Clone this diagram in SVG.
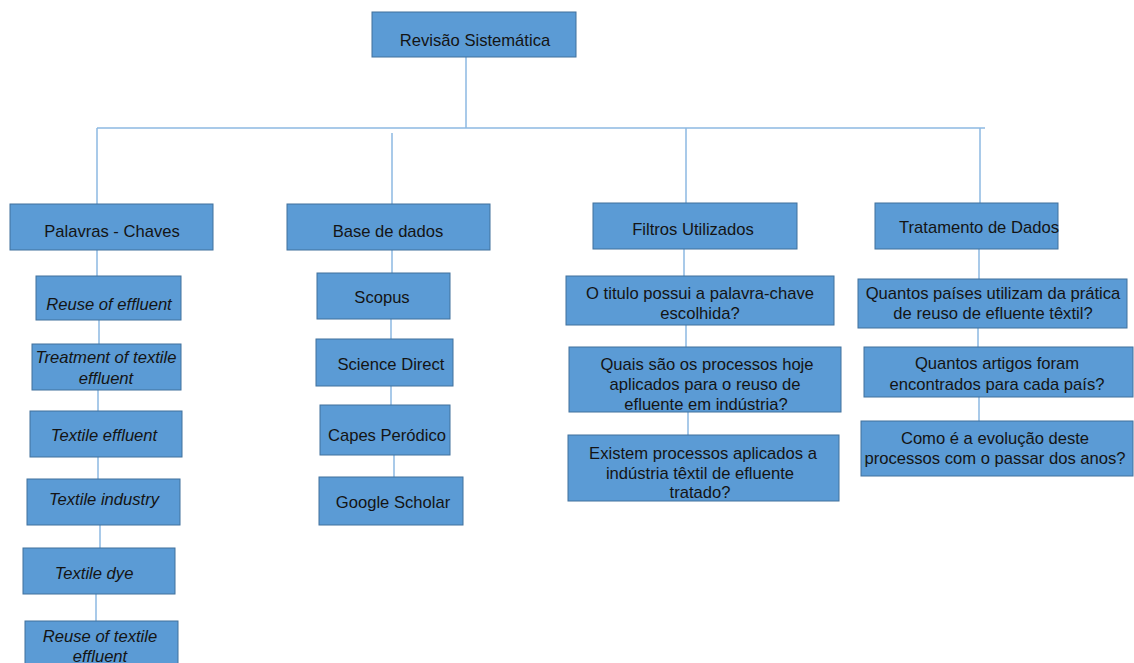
<svg xmlns="http://www.w3.org/2000/svg" width="1134" height="663" viewBox="0 0 1134 663">
<style>
.b{fill:#5B9BD5;stroke:#41719C;stroke-width:1}
.t{font-family:"Liberation Sans",Arial,sans-serif;font-size:16.6px;fill:#141414;text-anchor:middle}
.i{font-style:italic}
.c line{stroke:#8DB8E2;stroke-width:1.5}
</style>
<rect width="1134" height="663" fill="#fff"/>
<g class="c" id="connectors">
<line x1="466" y1="57" x2="466" y2="128"/>
<line x1="97" y1="128" x2="985" y2="128"/>
<line x1="97" y1="128" x2="97" y2="204"/>
<line x1="392" y1="133" x2="392" y2="204"/>
<line x1="686" y1="128" x2="686" y2="203"/>
<line x1="980" y1="128" x2="980" y2="203"/>
<line x1="97" y1="250" x2="97" y2="276"/>
<line x1="99" y1="320" x2="99" y2="344"/>
<line x1="98" y1="390" x2="98" y2="411"/>
<line x1="98" y1="457" x2="98" y2="479"/>
<line x1="100" y1="525" x2="100" y2="548"/>
<line x1="96" y1="594" x2="96" y2="621"/>
<line x1="392" y1="250" x2="392" y2="273"/>
<line x1="391" y1="319" x2="391" y2="339"/>
<line x1="391" y1="386" x2="391" y2="405"/>
<line x1="394" y1="455" x2="394" y2="477"/>
<line x1="684" y1="249" x2="684" y2="276"/>
<line x1="686" y1="325" x2="686" y2="347"/>
<line x1="688" y1="412" x2="688" y2="435"/>
<line x1="979" y1="249" x2="979" y2="279"/>
<line x1="978" y1="328" x2="978" y2="347"/>
<line x1="979" y1="397" x2="979" y2="421"/>
</g>
<g id="root"><rect class="b" x="372" y="12" width="204" height="45"/><text class="t" x="475" y="46">Revisão Sistemática</text></g>
<g id="palavras"><rect class="b" x="10" y="204" width="203" height="46"/><text class="t" x="112" y="237">Palavras - Chaves</text></g>
<g id="base"><rect class="b" x="287" y="204" width="203" height="46"/><text class="t" x="388" y="237">Base de dados</text></g>
<g id="filtros"><rect class="b" x="593" y="203" width="204" height="46"/><text class="t" x="693" y="235">Filtros Utilizados</text></g>
<g id="tratamento"><rect class="b" x="875" y="203" width="183" height="46"/><text class="t" x="979" y="233">Tratamento de Dados</text></g>

<g id="kw1"><rect class="b" x="36" y="276" width="145" height="44"/><text class="t i" x="109" y="310">Reuse of effluent</text></g>
<g id="kw2"><rect class="b" x="32" y="344" width="149" height="46"/><text class="t i" x="106" y="363">Treatment of textile</text><text class="t i" x="106" y="384">effluent</text></g>
<g id="kw3"><rect class="b" x="30" y="411" width="152" height="46"/><text class="t i" x="104" y="441">Textile effluent</text></g>
<g id="kw4"><rect class="b" x="27" y="479" width="153" height="46"/><text class="t i" x="104" y="505">Textile industry</text></g>
<g id="kw5"><rect class="b" x="23" y="548" width="152" height="46"/><text class="t i" x="94" y="579">Textile dye</text></g>
<g id="kw6"><rect class="b" x="25" y="621" width="153" height="50"/><text class="t i" x="100" y="642">Reuse of textile</text><text class="t i" x="100" y="662">effluent</text></g>

<g id="db1"><rect class="b" x="317" y="273" width="133" height="46"/><text class="t" x="382" y="303">Scopus</text></g>
<g id="db2"><rect class="b" x="316" y="339" width="137" height="47"/><text class="t" x="391" y="370">Science Direct</text></g>
<g id="db3"><rect class="b" x="320" y="405" width="130" height="50"/><text class="t" x="387" y="441">Capes Peródico</text></g>
<g id="db4"><rect class="b" x="319" y="477" width="144" height="48"/><text class="t" x="393" y="508">Google Scholar</text></g>

<g id="f1"><rect class="b" x="566" y="276" width="268" height="49"/><text class="t" x="700" y="299">O titulo  possui a palavra-chave</text><text class="t" x="700" y="319">escolhida?</text></g>
<g id="f2"><rect class="b" x="569" y="347" width="272" height="65"/><text class="t" x="707" y="370">Quais são os processos hoje</text><text class="t" x="705" y="390">aplicados para o reuso de</text><text class="t" x="706" y="410">efluente em indústria?</text></g>
<g id="f3"><rect class="b" x="568" y="435" width="271" height="66"/><text class="t" x="703" y="459">Existem processos aplicados a</text><text class="t" x="700" y="479">indústria têxtil de efluente</text><text class="t" x="700" y="498">tratado?</text></g>

<g id="t1"><rect class="b" x="858" y="279" width="269" height="49"/><text class="t" x="993" y="299">Quantos países utilizam da prática</text><text class="t" x="993" y="319">de reuso de efluente têxtil?</text></g>
<g id="t2"><rect class="b" x="864" y="347" width="269" height="50"/><text class="t" x="997" y="369">Quantos artigos foram</text><text class="t" x="997" y="390">encontrados para cada país?</text></g>
<g id="t3"><rect class="b" x="861" y="421" width="272" height="55"/><text class="t" x="995" y="444">Como é a evolução deste</text><text class="t" x="995" y="464">processos com o passar dos anos?</text></g>
</svg>
